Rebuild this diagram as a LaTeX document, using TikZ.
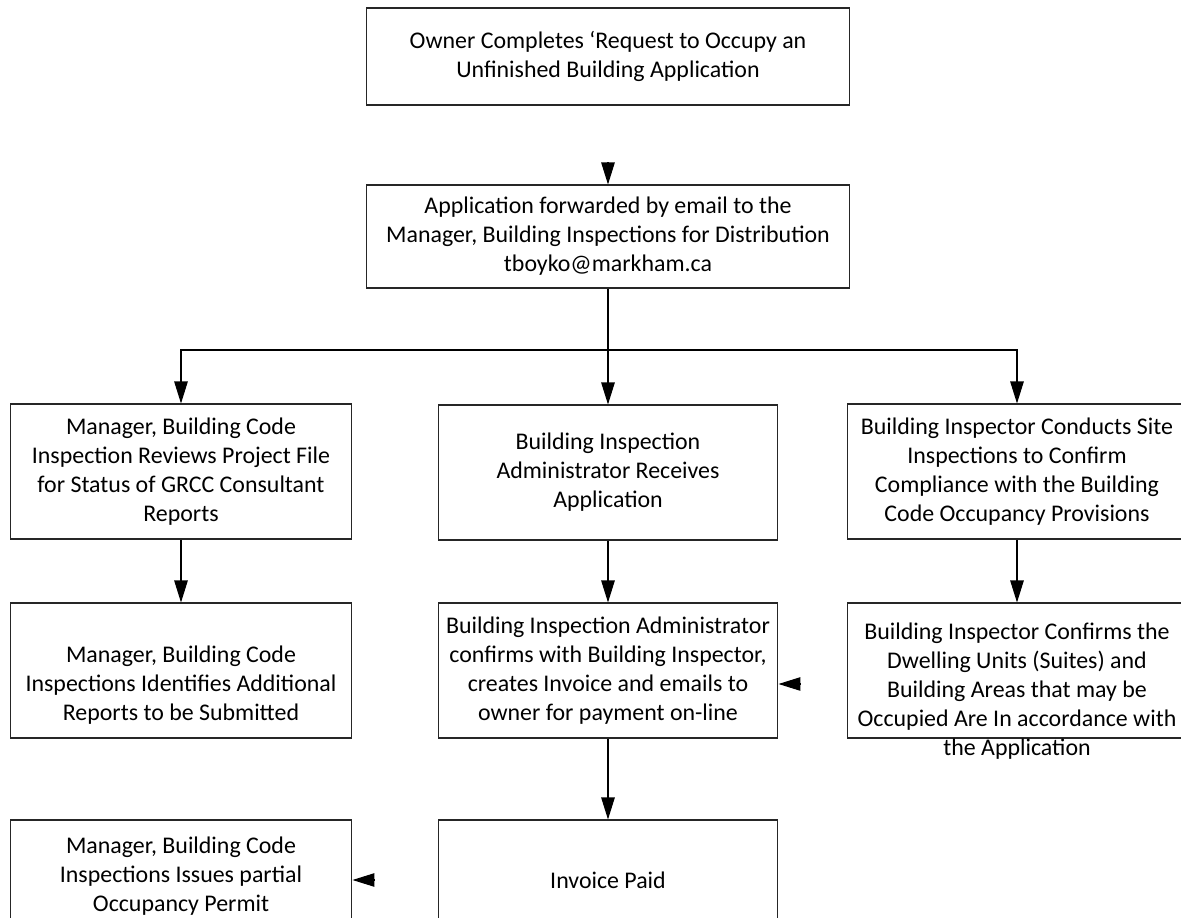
\documentclass[tikz,border=0pt]{standalone}
\usepackage{fontspec}
\setmainfont{Carlito}
\usetikzlibrary{calc}
\usetikzlibrary{positioning}
\usetikzlibrary{arrows.meta}

\begin{document}
\begin{tikzpicture}[x=0.02cm,y=-0.02cm,>={Triangle[length=0.44cm,width=0.27cm]},
  box/.style={draw=black!85,line width=0.6pt,inner sep=0pt,minimum width=#1,minimum height=2.7cm},
  box/.default=6.8cm,
  txt/.style={align=center,inner sep=0pt,font=\fontsize{13.6}{16.5}\selectfont},
  arr/.style={->,line width=0.6pt}]

\useasboundingbox (0,0) rectangle (1181,918);
\clip (0,0) rectangle (1181,918);

\node [box=9.66cm,minimum height=1.94cm,txt] (owner) at (608,56.5) {Owner Completes ‘Request to Occupy an\\Unfinished Building Application};
\node [box=9.66cm,minimum height=2.06cm,txt] (fwd) at (608,236.5) {Application forwarded by email to the\\Manager, Building Inspections for Distribution\\tboyko@markham.ca};

\node [box=6.84cm,txt] (review) at (181,471.5) {Manager, Building Code\\Inspection Reviews Project File\\for Status of GRCC Consultant\\Reports};
\node [box,txt] (recv) at (608,472.5) {Building Inspection\\Administrator Receives\\Application};
\node [box,txt] (site) at (1017,471.5) {Building Inspector Conducts Site\\Inspections to Confirm\\Compliance with the Building\\Code Occupancy Provisions};

\node [box=6.84cm] (ident) at (181,670.5) {};
\node [txt] (identtxt) at (181,685) {Manager, Building Code\\Inspections Identifies Additional\\Reports to be Submitted};
\node [box,txt] (confirm) at (608,670.5) {Building Inspection Administrator\\confirms with Building Inspector,\\creates Invoice and emails to\\owner for payment on-line};
\node [box] (units) at (1017,670.5) {};
\node [txt] (unitstxt) at (1017,691) {Building Inspector Confirms the\\Dwelling Units (Suites) and\\Building Areas that may be\\Occupied Are In accordance with\\the Application};

\node [box=6.84cm,minimum height=2.8cm] (permit) at (181,890) {};
\node [txt] (permittxt) at (181,876) {Manager, Building Code\\Inspections Issues partial\\Occupancy Permit};
\node [box,minimum height=2.8cm] (paid) at (608,890) {};
\node [txt] (paidtxt) at (608,880) {Invoice Paid};

\coordinate (split) at (608,350);

\draw [arr] ([yshift=0.44cm]fwd.north) -- (fwd.north);
\draw [line width=0.6pt] (fwd.south) -- (split);
\draw [arr] (split) -| (review.north);
\draw [arr] (split) -- (recv.north);
\draw [arr] (split) -| (site.north);

\draw [arr] (review.south) -- (ident.north);
\draw [arr] (recv.south) -- (confirm.north);
\draw [arr] (site.south) -- (units.north);
\draw [arr] (confirm.south) -- (paid.north);

\draw [arr] ([xshift=0.44cm,yshift=-0.27cm]confirm.east) -- ([yshift=-0.27cm]confirm.east);
\draw [arr] ([xshift=0.44cm,yshift=0.2cm]permit.east) -- ([yshift=0.2cm]permit.east);

\end{tikzpicture}
\end{document}
